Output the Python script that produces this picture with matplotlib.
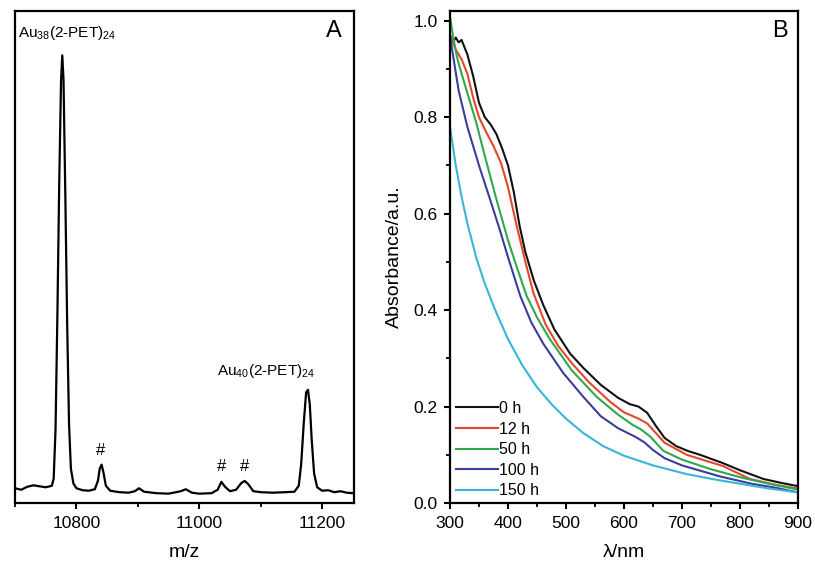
import matplotlib
matplotlib.use('Agg')
import matplotlib.pyplot as plt
from matplotlib.ticker import MultipleLocator

plt.rcParams['font.family'] = ['Liberation Sans', 'DejaVu Sans']
plt.rcParams['mathtext.fontset'] = 'custom'
plt.rcParams['mathtext.rm'] = 'Liberation Sans'
plt.rcParams['mathtext.it'] = 'Liberation Sans:italic'

# Panel A - mass spectrum (m/z, relative intensity)
mz = [10700, 10710, 10720, 10730, 10740, 10750, 10760, 10763, 10766, 10769,
      10772, 10775, 10777, 10779, 10782, 10785, 10788, 10791, 10795, 10800,
      10810, 10820, 10830, 10835, 10838, 10841, 10844, 10848, 10855, 10870,
      10885, 10895, 10902, 10910, 10930, 10950, 10970, 10978, 10988, 11000,
      11020, 11030, 11036, 11042, 11050, 11060, 11068, 11074, 11080, 11088,
      11100, 11120, 11140, 11155, 11162, 11166, 11170, 11174, 11177, 11180,
      11183, 11187, 11192, 11200, 11210, 11220, 11230, 11240, 11250]
intensity = [0.030, 0.027, 0.033, 0.036, 0.034, 0.032, 0.035, 0.05, 0.15, 0.38,
             0.65, 0.86, 0.91, 0.86, 0.62, 0.36, 0.16, 0.07, 0.04, 0.03,
             0.026, 0.025, 0.028, 0.045, 0.070, 0.078, 0.062, 0.035, 0.025, 0.022,
             0.021, 0.024, 0.030, 0.023, 0.020, 0.019, 0.024, 0.028, 0.021, 0.019,
             0.020, 0.027, 0.043, 0.033, 0.024, 0.027, 0.040, 0.045, 0.038, 0.024,
             0.022, 0.021, 0.022, 0.023, 0.035, 0.08, 0.16, 0.225, 0.23, 0.20,
             0.13, 0.06, 0.032, 0.025, 0.026, 0.022, 0.024, 0.021, 0.020]
hash_mz = [10840, 11037, 11073]
hash_y = [0.107, 0.075, 0.075]

# Panel B - UV-vis spectra
wl_0h = [300, 305, 310, 315, 320, 325, 330, 340, 350, 360, 370, 380, 390, 400,
         410, 420, 430, 445, 461, 480, 507, 530, 560, 590, 610, 625, 640, 655,
         670, 690, 710, 731, 770, 800, 840, 870, 900]
abs_0h = [0.97, 0.955, 0.965, 0.955, 0.96, 0.945, 0.93, 0.885, 0.83, 0.80, 0.785,
          0.765, 0.735, 0.70, 0.645, 0.575, 0.52, 0.46, 0.41, 0.36, 0.31, 0.28,
          0.245, 0.218, 0.205, 0.20, 0.187, 0.16, 0.135, 0.118, 0.108, 0.10,
          0.083, 0.068, 0.05, 0.042, 0.035]
wl_12h = [300, 310, 320, 330, 340, 350, 362, 375, 388, 400, 415, 430, 444, 465,
          487, 510, 540, 576, 600, 625, 640, 655, 670, 690, 708, 740, 770, 817,
          860, 900]
abs_12h = [0.97, 0.94, 0.92, 0.89, 0.84, 0.80, 0.77, 0.74, 0.705, 0.655, 0.575,
           0.50, 0.435, 0.37, 0.325, 0.29, 0.25, 0.21, 0.188, 0.175, 0.165, 0.145,
           0.125, 0.112, 0.10, 0.088, 0.077, 0.05, 0.038, 0.03]
wl_50h = [300, 305, 312, 320, 330, 345, 360, 380, 400, 415, 432, 450, 472, 510,
          553, 590, 615, 630, 645, 668, 700, 750, 805, 850, 900]
abs_50h = [1.01, 0.97, 0.925, 0.89, 0.85, 0.79, 0.72, 0.63, 0.545, 0.49, 0.43,
           0.385, 0.34, 0.275, 0.22, 0.183, 0.162, 0.152, 0.138, 0.108, 0.09,
           0.07, 0.052, 0.04, 0.028]
wl_100h = [300, 305, 315, 330, 350, 369, 385, 400, 421, 440, 461, 495, 530, 560,
           590, 620, 635, 650, 670, 700, 766, 820, 860, 900]
abs_100h = [0.97, 0.93, 0.855, 0.78, 0.70, 0.63, 0.57, 0.51, 0.43, 0.375, 0.33,
            0.27, 0.22, 0.18, 0.155, 0.137, 0.126, 0.11, 0.093, 0.078, 0.055,
            0.04, 0.032, 0.022]
wl_150h = [300, 310, 320, 330, 345, 360, 378, 400, 425, 450, 475, 500, 530, 564,
           600, 650, 708, 760, 800, 850, 900]
abs_150h = [0.78, 0.70, 0.635, 0.58, 0.51, 0.455, 0.40, 0.34, 0.285, 0.24, 0.205,
            0.175, 0.145, 0.118, 0.098, 0.078, 0.06, 0.048, 0.04, 0.03, 0.022]

series = [
    (wl_0h, abs_0h, '0 h', '#111111'),
    (wl_12h, abs_12h, '12 h', '#e5472b'),
    (wl_50h, abs_50h, '50 h', '#2fa84f'),
    (wl_100h, abs_100h, '100 h', '#3b3d9b'),
    (wl_150h, abs_150h, '150 h', '#37b6d9'),
]

fig = plt.figure(figsize=(8.15, 5.65), dpi=100)
axA = fig.add_axes([0.0184, 0.1097, 0.416, 0.8708])
axB = fig.add_axes([0.5521, 0.1097, 0.427, 0.8708])

# --- panel A
axA.plot(mz, intensity, color='black', lw=1.6)
axA.set_xlim(10700, 11252)
axA.set_ylim(0, 1)
axA.set_yticks([])
axA.xaxis.set_major_locator(MultipleLocator(200))
axA.xaxis.set_minor_locator(MultipleLocator(100))
axA.set_xlabel('m/z', fontsize=14, labelpad=10)
axA.text(0.008, 0.955, r'Au$_{\mathregular{38}}$(2-PET)$_{\mathregular{24}}$',
         transform=axA.transAxes, fontsize=11, va='center', ha='left')
axA.text(11108, 0.25, r'Au$_{\mathregular{40}}$(2-PET)$_{\mathregular{24}}$',
         fontsize=11, va='bottom', ha='center')
for x, y in zip(hash_mz, hash_y):
    axA.text(x, y, '#', fontsize=12, ha='center', va='center')
axA.text(0.965, 0.96, 'A', transform=axA.transAxes, fontsize=17,
         ha='right', va='center')

# --- panel B
for wl, ab, lab, col in series:
    axB.plot(wl, ab, color=col, lw=1.5, label=lab)
axB.set_xlim(300, 900)
axB.set_ylim(0, 1.02)
axB.xaxis.set_major_locator(MultipleLocator(100))
axB.xaxis.set_minor_locator(MultipleLocator(50))
axB.yaxis.set_major_locator(MultipleLocator(0.2))
axB.yaxis.set_minor_locator(MultipleLocator(0.1))
axB.yaxis.set_major_formatter(plt.FormatStrFormatter('%.1f'))
axB.set_xlabel('λ/nm', fontsize=14, labelpad=10)
axB.set_ylabel('Absorbance/a.u.', fontsize=14)
axB.yaxis.set_label_coords(-0.135, 0.5)
axB.text(0.97, 0.96, 'B', transform=axB.transAxes, fontsize=17,
         ha='right', va='center')
axB.legend(loc='lower left', bbox_to_anchor=(-0.01, -0.01), frameon=False,
           fontsize=11.5, handlelength=2.6, handletextpad=0.1,
           labelspacing=0.35, borderaxespad=0.2)

for ax in (axA, axB):
    for sp in ax.spines.values():
        sp.set_linewidth(1.6)
    ax.tick_params(which='major', direction='out', length=4, width=1.5,
                   labelsize=12.5, pad=5)
    ax.tick_params(which='minor', direction='out', length=3, width=1.3)
    ax.tick_params(axis='y', which='both', right=False)

fig.savefig('out.png', dpi=100)
